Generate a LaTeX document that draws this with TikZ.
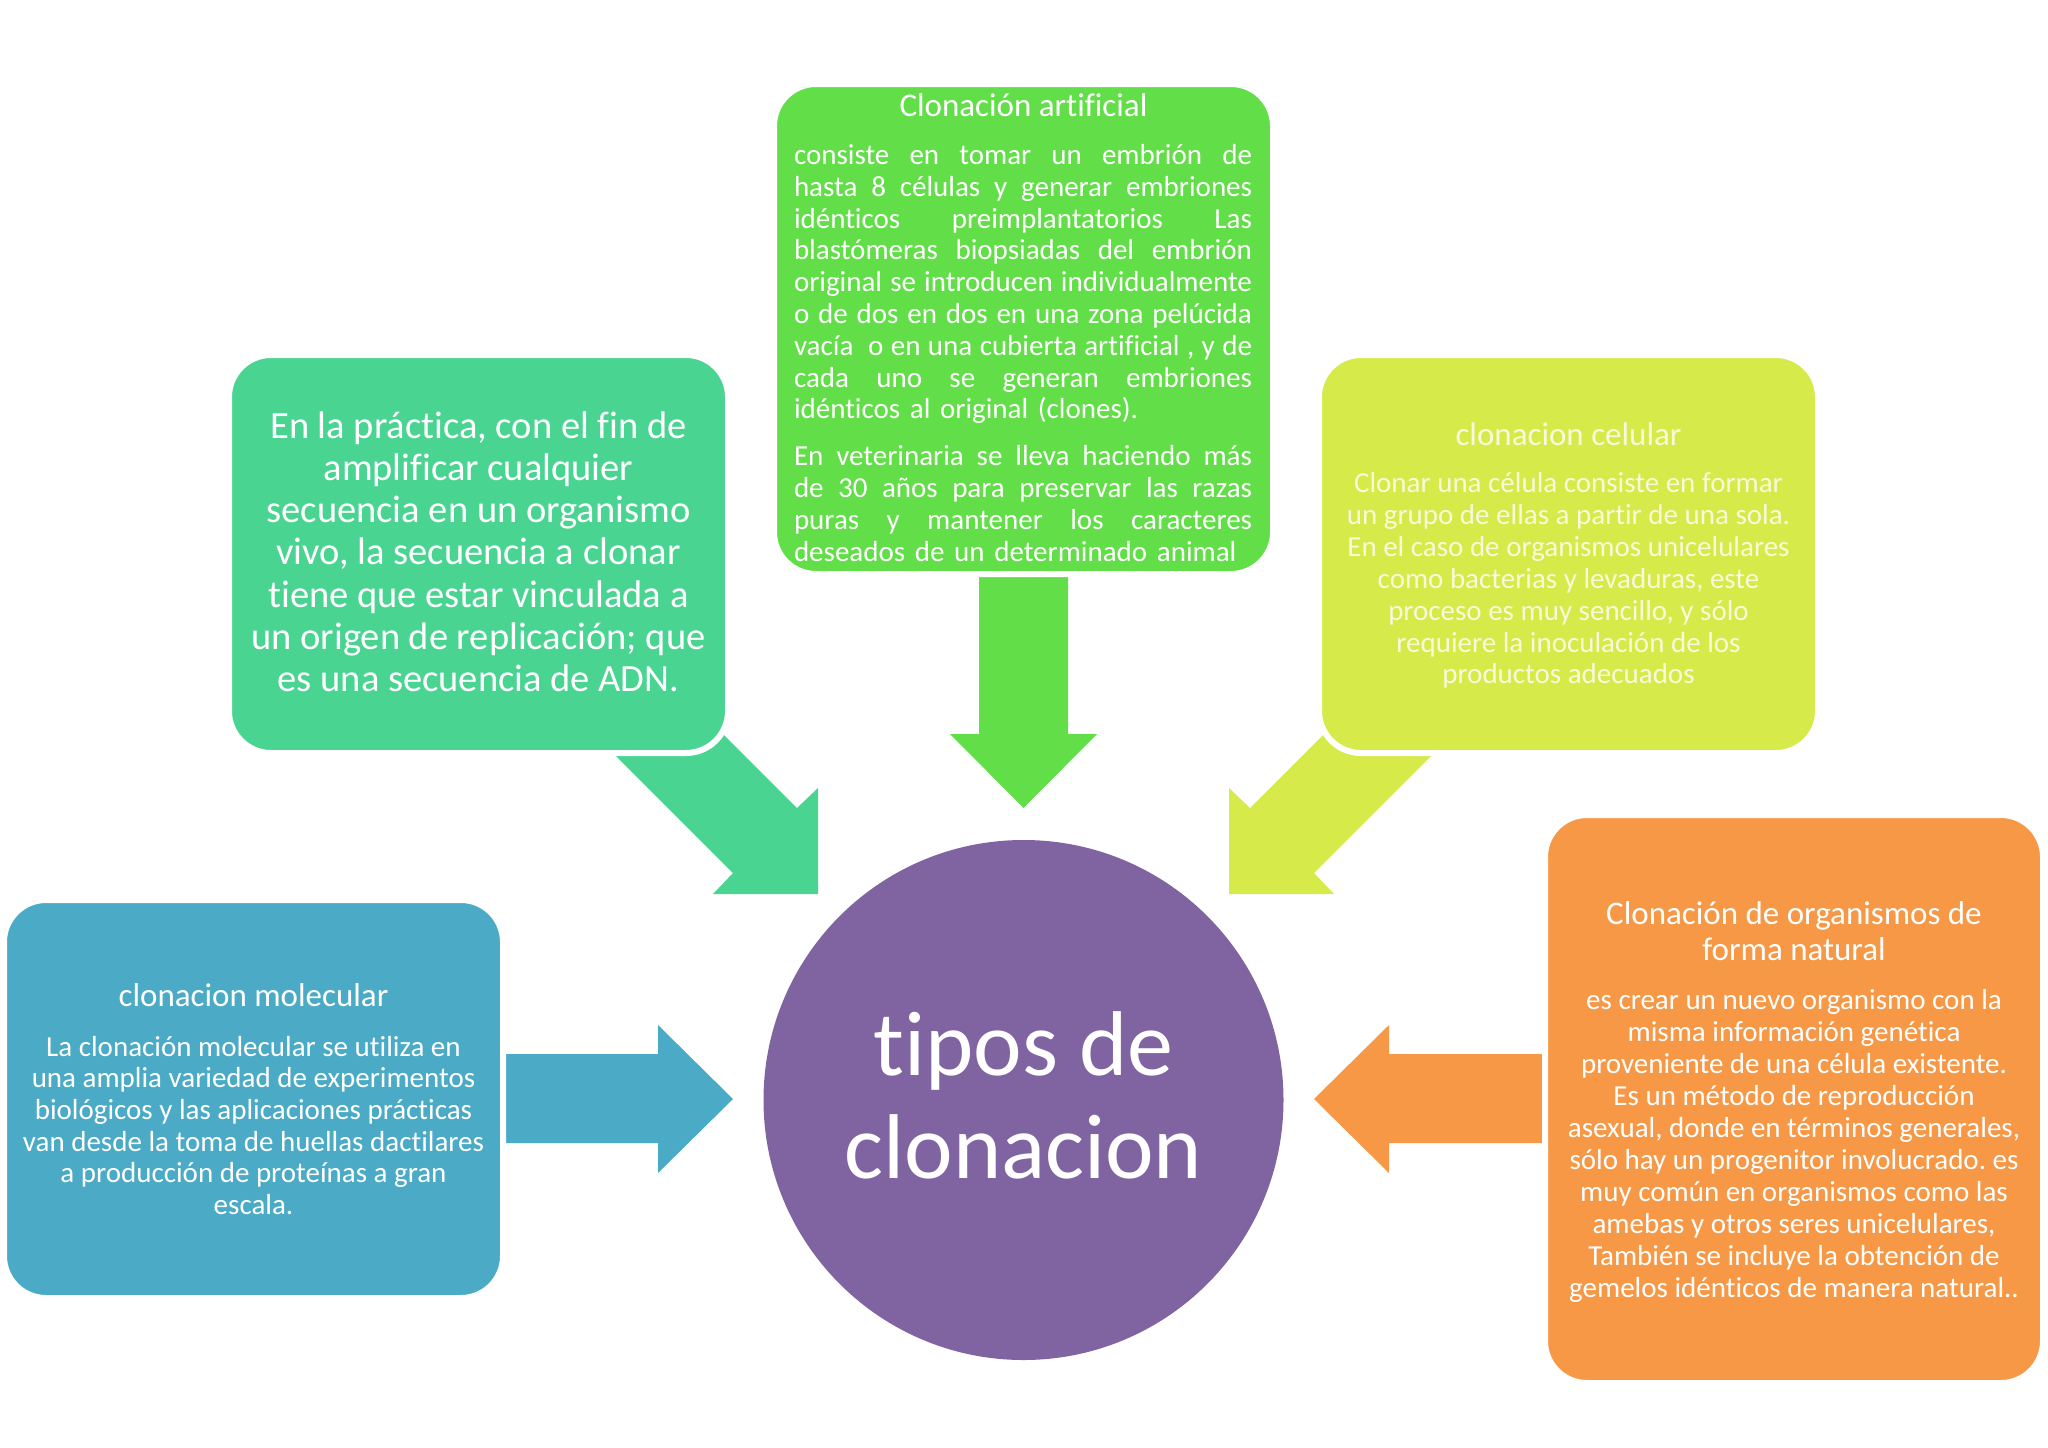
\documentclass[tikz,border=0pt]{standalone}
\usepackage{fontspec}
\setmainfont{Carlito}[Ligatures=NoCommon]
\frenchspacing
\definecolor{cTop}{RGB}{98,223,72}
\definecolor{cTeal}{RGB}{74,212,146}
\definecolor{cLime}{RGB}{214,234,74}
\definecolor{cBlue}{RGB}{75,170,198}
\definecolor{cOrange}{RGB}{246,152,70}
\definecolor{cPurple}{RGB}{128,100,162}
\newcommand{\jline}[1]{{\spaceskip=0pt\xspaceskip=0pt\makebox[458pt][s]{#1}}}
\newcommand{\cstart}{\centering\frenchspacing\spaceskip=0pt\xspaceskip=0pt\relax}
\begin{document}
\begin{tikzpicture}[x=1pt,y=-1pt,
  panel/.style={draw=white,line width=6pt,rounded corners=42pt,inner sep=0pt,outer sep=0pt},
  txt/.style={text=white,inner sep=0pt,outer sep=0pt},
  ctxt/.style={txt,anchor=base,text width=480pt},
  ttl/.style={font=\fontsize{33}{36.9}\selectfont},
]
\useasboundingbox (0,0) rectangle (2048,1448);
\fill[white] (0,0) rectangle (2048,1448);

% block arrows (drawn first, boxes cover their tails)
\fill[cTeal] (644.5,655.5) -- (797,808) -- (818,788) -- (818,894) -- (713,894) -- (733,873) -- (580,720) -- cycle;
\fill[cLime] (1402.5,655.5) -- (1250,808) -- (1229,788) -- (1229,894) -- (1334,894) -- (1314,873) -- (1467,720) -- cycle;
\fill[cTop] (979,576) -- (1068,576) -- (1068,734) -- (1097,734) -- (1023.5,808) -- (950,734) -- (979,734) -- cycle;
\fill[cBlue] (505,1054) -- (658,1054) -- (658,1025) -- (733,1099) -- (658,1173) -- (658,1143) -- (505,1143) -- cycle;
\fill[cOrange] (1542,1054) -- (1389,1054) -- (1389,1025) -- (1314,1099) -- (1389,1173) -- (1389,1143) -- (1542,1143) -- cycle;

% panels
\node[panel,fill=cTop,minimum width=499pt,minimum height=490pt] (ptop) at (1023.5,329) {};
\node[panel,fill=cTeal,minimum width=499pt,minimum height=398pt] (pteal) at (478.5,554) {};
\node[panel,fill=cLime,minimum width=499pt,minimum height=398pt] (plime) at (1568.5,554) {};
\node[panel,fill=cBlue,minimum width=499pt,minimum height=398pt] (pblue) at (253.5,1099) {};
\node[panel,fill=cOrange,minimum width=498pt,minimum height=568pt] (porange) at (1794,1099) {};
\node[circle,fill=cPurple,minimum size=520pt,inner sep=0pt] (center) at (1023.5,1100) {};

% top panel text
\node[txt,ttl,anchor=base] (ttop) at (1023.5,116.5) {Clonación artificial};
\node[txt,anchor=base west,text width=458pt,font=\fontsize{29}{31.8}\selectfont] (btop) at (794,164.5) {\raggedright
\jline{consiste en tomar un embrión de}\\
\jline{hasta 8 células y generar embriones}\\
\jline{idénticos preimplantatorios Las}\\
\jline{blastómeras biopsiadas del embrión}\\
\jline{original se introducen individualmente}\\
\jline{o de dos en dos en una zona pelúcida}\\
\jline{vacía\ \ o en una cubierta artificial , y de}\\
\jline{cada uno se generan embriones}\\
idénticos al original (clones).\\[15pt]
\jline{En veterinaria se lleva haciendo más}\\
\jline{de 30 años para preservar las razas}\\
\jline{puras y mantener los caracteres}\\
deseados de un determinado animal\par};

% teal panel text
\node[ctxt,font=\fontsize{38.5}{42.2}\selectfont] (bteal) at (478.5,438.3) {\cstart
En la práctica, con el fin de\\
amplificar cualquier\\
secuencia en un organismo\\
vivo, la secuencia a clonar\\
tiene que estar vinculada a\\
un origen de replicación; que\\
es una secuencia de ADN.\par};

% lime panel text
\node[txt,ttl,anchor=base,text=white!80!cLime] (tlime) at (1568.5,445) {clonacion celular};
\node[ctxt,text=white!80!cLime,font=\fontsize{29}{31.9}\selectfont] (blime) at (1568.5,492.5) {\cstart
Clonar una célula consiste en formar\\
un grupo de ellas a partir de una sola.\\
En el caso de organismos unicelulares\\
como bacterias y levaduras, este\\
proceso es muy sencillo, y sólo\\
requiere la inoculación de los\\
productos adecuados\par};

% blue panel text
\node[txt,ttl,anchor=base] (tblue) at (253.5,1006) {clonacion molecular};
\node[ctxt,font=\fontsize{29}{31.7}\selectfont] (bblue) at (253.5,1056) {\cstart
La clonación molecular se utiliza en\\
una amplia variedad de experimentos\\
biológicos y las aplicaciones prácticas\\
van desde la toma de huellas dactilares\\
a producción de proteínas a gran\\
escala.\par};

% orange panel text
\node[ctxt,ttl] (torange) at (1794,924) {\cstart
Clonación de organismos de\\
forma natural\par};
\node[ctxt,font=\fontsize{29}{32}\selectfont] (borange) at (1794,1009.5) {\cstart
es crear un nuevo organismo con la\\
misma información genética\\
proveniente de una célula existente.\\
Es un método de reproducción\\
asexual, donde en términos generales,\\
sólo hay un progenitor involucrado. es\\
muy común en organismos como las\\
amebas y otros seres unicelulares,\\
También se incluye la obtención de\\
gemelos idénticos de manera natural..\par};

% centre text
\node[ctxt,font=\fontsize{92}{103}\selectfont] (tcenter) at (1023.5,1075) {\cstart
tipos de\\
clonacion\par};
\end{tikzpicture}
\end{document}
